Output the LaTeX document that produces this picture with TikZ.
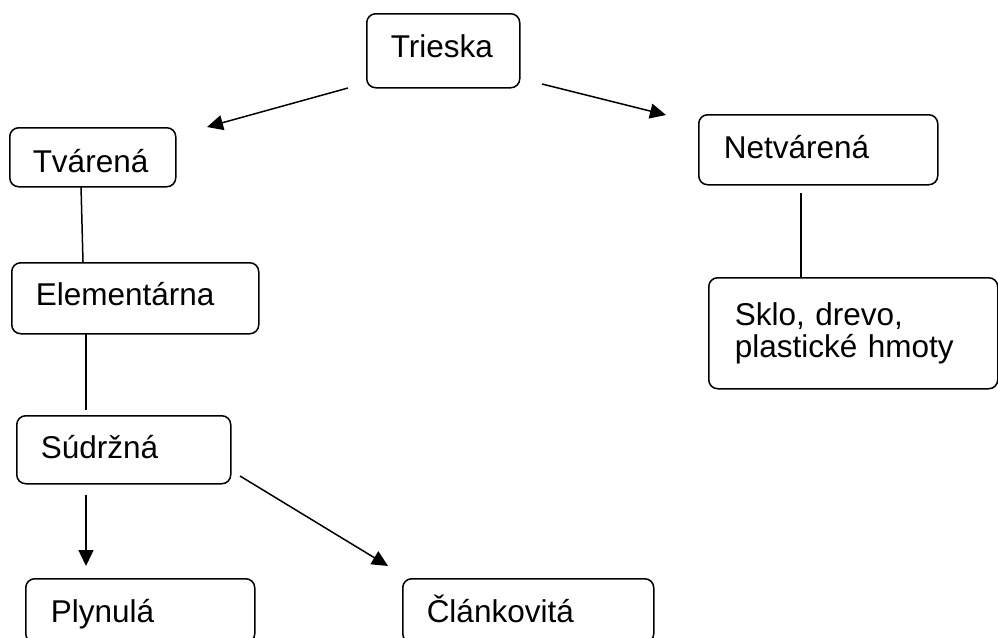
\documentclass[tikz,border=0pt]{standalone}
\usepackage{fontspec}
\setmainfont{Liberation Sans}
\usetikzlibrary{arrows.meta}
\begin{document}
\begin{tikzpicture}[x=1pt,y=-1pt,
  box/.style={draw, line width=1.5pt, rounded corners=9pt, anchor=north west,
    align=left, font=\fontsize{31.5}{32}\selectfont, inner ysep=0pt, text depth=0pt},
  link/.style={line width=1.5pt},
  arr/.style={line width=1.5pt, -{Triangle[length=16pt,width=15pt]}}]
\useasboundingbox (0,0) rectangle (998,637);
\node[box, text width=105pt, inner xsep=24pt, minimum height=74pt, text height=14pt] (trieska) at (366,13) {Trieska};
\node[box, text width=120pt, inner xsep=23pt, minimum height=59pt, text height=31pt] (tvarena) at (9,127) {Tvárená};
\node[box, text width=199pt, inner xsep=24pt, minimum height=71pt, text height=15pt] (elem) at (11,262) {Elementárna};
\node[box, text width=166pt, inner xsep=24pt, minimum height=68pt, text height=18pt] (sudrzna) at (16,415) {Súdržná};
\node[box, text width=179pt, inner xsep=25pt, minimum height=64pt, text height=24pt] (plynula) at (25,578) {Plynulá};
\node[box, text width=203pt, inner xsep=24pt, minimum height=64pt, text height=24pt] (clank) at (402,578) {Článkovitá};
\node[box, text width=189pt, inner xsep=25pt, minimum height=70pt, text height=18pt] (netv) at (698,114) {Netvárená};
\node[box, text width=237pt, inner xsep=26pt, minimum height=111pt, text height=17pt, text depth=32pt] (sklo) at (708,277) {Sklo, drevo,\\plastické hmoty};
\coordinate (t1) at (348,88);  \coordinate (t1e) at (207,127);
\coordinate (t2) at (542,84);  \coordinate (t2e) at (666,115);
\coordinate (v1) at (81,186);  \coordinate (v1e) at (83,262);
\coordinate (n1) at (801,193); \coordinate (n1e) at (801,277);
\coordinate (e1) at (86,333);  \coordinate (e1e) at (86,410);
\coordinate (s1) at (86,495);  \coordinate (s1e) at (86,566);
\coordinate (s2) at (240,476); \coordinate (s2e) at (388,566);
\draw[arr] (t1) -- (t1e);
\draw[arr] (t2) -- (t2e);
\draw[link] (v1) -- (v1e);
\draw[link] (n1) -- (n1e);
\draw[link] (e1) -- (e1e);
\draw[arr] (s1) -- (s1e);
\draw[arr] (s2) -- (s2e);
\end{tikzpicture}
\end{document}
